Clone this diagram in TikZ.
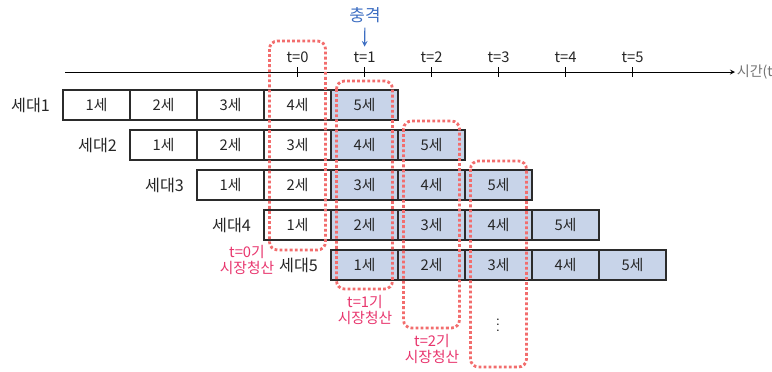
\documentclass[tikz,border=0pt]{standalone}
\usepackage{fontspec}
\newfontfamily\kor{Noto Sans CJK KR}
\usetikzlibrary{positioning}
\definecolor{cellblue}{HTML}{C8D4E9}
\definecolor{clearred}{HTML}{F26D6D}
\definecolor{labred}{HTML}{E8366E}
\definecolor{shockblue}{HTML}{3D6EC2}
\definecolor{edge}{HTML}{2B2B2B}

\tikzset{
  cell/.style={draw=edge, line width=1.2pt, minimum width=1.675cm, minimum height=0.75cm, inner sep=0pt, text=black!85, font=\kor\fontsize{10.5}{12}\selectfont},
  gen/.style={inner sep=0pt, text=black!85, font=\kor\fontsize{11.5}{13}\selectfont},
  tlab/.style={text=black!85, font=\kor\fontsize{10.5}{12}\selectfont},
  mkt/.style={draw=clearred, line width=2pt, dash pattern=on 2pt off 1.6pt, rounded corners=0.2cm},
  mktlab/.style={text=labred, align=center, inner sep=1pt, font=\kor\fontsize{10.5}{11}\selectfont},
}

\begin{document}
\begin{tikzpicture}[x=0.025cm, y=-0.025cm]
\useasboundingbox (0,0) rectangle (772,371);

%axe du temps
\coordinate (ax0) at (65,72);
\coordinate (ax1) at (735,72);
\draw[->,>=stealth, line width=0.6pt] (ax0) -- (ax1) node[right, inner sep=1pt, text=black!55, font=\kor\fontsize{10}{11}\selectfont] (axlab) {시간(t)};

%graduations
\foreach \t in {0,...,5}{
  \draw[line width=0.8pt] ({297.5+67*\t},67) -- ({297.5+67*\t},77);
  \node[tlab] (t\t) at ({297.5+67*\t},57) {t=\t};
}

%choc
\node[text=shockblue, font=\kor\fontsize{12}{13}\selectfont] (shock) at (365,15) {충격};
\draw[->,>=stealth, shockblue, line width=0.8pt] (shock) -- (t1);

%cohortes
\foreach \row in {1,...,5}{
  \foreach \col in {1,...,5}{
    \pgfmathtruncatemacro\j{\row+\col-2}
    \ifnum\j>3 \def\fc{cellblue}\else\def\fc{white}\fi
    \node[cell, fill=\fc] (c\row\col) at ({96.5+67*\j},{105+40*(\row-1)}) {\col{}세};
  }
  \node[gen, left=0.3cm of c\row1] (g\row) {세대\row};
}

%apurement du marché
\foreach \t in {0,...,3}
  \draw[mkt] ({297.5+67*\t-28},{41+40*\t}) rectangle ({297.5+67*\t+28},{250+39*\t});

\node[mktlab] (clr0) at (247,260) {t=0기\\시장청산};
\node[mktlab] (clr1) at (365,310) {t=1기\\시장청산};
\node[mktlab] (clr2) at (432,349) {t=2기\\시장청산};
\node[font=\fontsize{11}{12}\selectfont] (more) at (498,321) {$\vdots$};

\end{tikzpicture}
\end{document}
